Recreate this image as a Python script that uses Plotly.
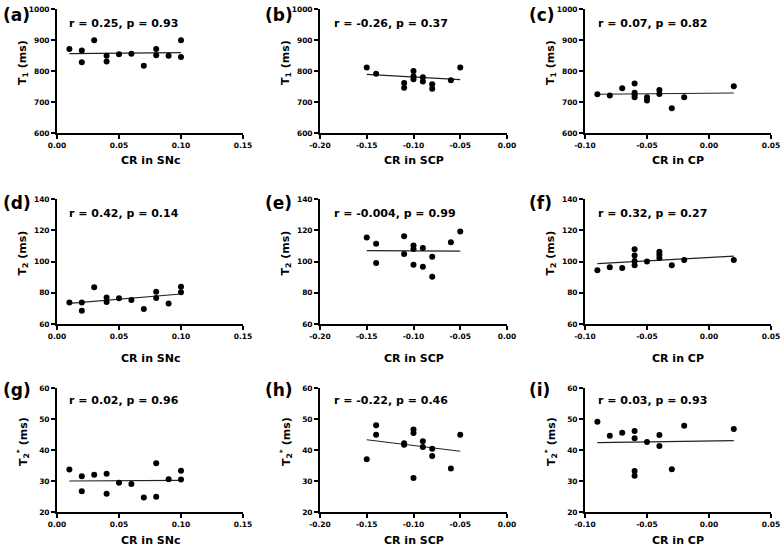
import plotly.graph_objects as go

W, H = 784, 549

# ---------------- data ----------------
# (a) T1 vs CR in SNc
a_x = [0.01, 0.02, 0.02, 0.03, 0.04, 0.04, 0.05, 0.06, 0.07, 0.08, 0.08, 0.09, 0.10, 0.10]
a_y = [871, 866, 828, 899, 849, 831, 854, 856, 817, 871, 851, 849, 899, 845]
a_fit_x = [0.01, 0.10]
a_fit_y = [856, 859]

# (b) T1 vs CR in SCP
b_x = [-0.15, -0.14, -0.11, -0.11, -0.10, -0.10, -0.10, -0.09, -0.09, -0.08, -0.08, -0.06, -0.05]
b_y = [811, 791, 761, 746, 800, 783, 773, 780, 766, 757, 743, 770, 811]
b_fit_x = [-0.15, -0.05]
b_fit_y = [789, 772]

# (c) T1 vs CR in CP
c_x = [-0.09, -0.08, -0.07, -0.06, -0.06, -0.06, -0.06, -0.05, -0.05, -0.04, -0.04, -0.03, -0.02, 0.02]
c_y = [725, 721, 744, 760, 730, 723, 715, 715, 705, 739, 726, 680, 715, 751]
c_fit_x = [-0.09, 0.02]
c_fit_y = [725, 729]

# (d) T2 vs CR in SNc
d_x = [0.01, 0.02, 0.02, 0.03, 0.04, 0.04, 0.05, 0.06, 0.07, 0.08, 0.08, 0.09, 0.10, 0.10]
d_y = [73.7, 73.7, 68.4, 83.5, 76.9, 74.1, 76.4, 75.3, 69.6, 80.7, 76.6, 73.2, 83.9, 80.3]
d_fit_x = [0.01, 0.10]
d_fit_y = [73.2, 79.2]

# (e) T2 vs CR in SCP
e_x = [-0.15, -0.14, -0.14, -0.11, -0.11, -0.10, -0.10, -0.10, -0.09, -0.09, -0.08, -0.08, -0.06, -0.05]
e_y = [115.3, 111.3, 99.0, 116.2, 104.8, 110.2, 108.0, 98.0, 108.7, 96.7, 103.1, 90.2, 112.3, 119.2]
e_fit_x = [-0.15, -0.05]
e_fit_y = [107.0, 106.6]

# (f) T2 vs CR in CP
f_x = [-0.09, -0.08, -0.07, -0.06, -0.06, -0.06, -0.06, -0.05, -0.04, -0.04, -0.04, -0.03, -0.02, 0.02]
f_y = [94.4, 96.3, 95.9, 107.8, 103.9, 100.4, 97.6, 100.0, 106.3, 104.3, 102.2, 97.6, 100.9, 100.9]
f_fit_x = [-0.09, 0.02]
f_fit_y = [98.7, 103.5]

# (g) T2* vs CR in SNc
g_x = [0.01, 0.02, 0.02, 0.03, 0.04, 0.04, 0.05, 0.06, 0.07, 0.08, 0.08, 0.09, 0.10, 0.10]
g_y = [33.7, 31.5, 26.7, 32.0, 32.3, 25.9, 29.4, 29.0, 24.7, 35.7, 24.9, 30.6, 33.3, 30.5]
g_fit_x = [0.01, 0.10]
g_fit_y = [30.0, 30.2]

# (h) T2* vs CR in SCP
h_x = [-0.15, -0.14, -0.14, -0.11, -0.11, -0.10, -0.10, -0.10, -0.09, -0.09, -0.08, -0.08, -0.06, -0.05]
h_y = [37.0, 48.0, 44.9, 42.2, 41.7, 46.6, 45.5, 31.0, 42.8, 41.0, 40.4, 38.1, 34.0, 44.9]
h_fit_x = [-0.15, -0.05]
h_fit_y = [43.3, 39.6]

# (i) T2* vs CR in CP
i_x = [-0.09, -0.08, -0.07, -0.06, -0.06, -0.06, -0.06, -0.05, -0.04, -0.04, -0.03, -0.02, 0.02]
i_y = [49.1, 44.6, 45.6, 46.1, 43.8, 33.2, 31.7, 42.6, 44.8, 41.3, 33.8, 47.8, 46.8]
i_fit_x = [-0.09, 0.02]
i_fit_y = [42.4, 43.0]

panel_labels = ["(a)", "(b)", "(c)", "(d)", "(e)", "(f)", "(g)", "(h)", "(i)"]
stats_text = ["r = 0.25, p = 0.93", "r = -0.26, p = 0.37", "r = 0.07, p = 0.82",
              "r = 0.42, p = 0.14", "r = -0.004, p = 0.99", "r = 0.32, p = 0.27",
              "r = 0.02, p = 0.96", "r = -0.22, p = 0.46", "r = 0.03, p = 0.93"]
x_titles = ["CR in SNc", "CR in SCP", "CR in CP"]
y_titles = ["T<sub>1</sub> (ms)", "T<sub>2</sub> (ms)", "T<sub>2</sub><sup>*</sup> (ms)"]

x_tickvals = [[0.0, 0.05, 0.10, 0.15], [-0.20, -0.15, -0.10, -0.05, 0.0], [-0.10, -0.05, 0.0, 0.05]]
x_ticktext = [["0.00", "0.05", "0.10", "0.15"],
              ["-0.20", "-0.15", "-0.10", "-0.05", "0.00"],
              ["-0.10", "-0.05", "0.00", "0.05"]]
y_tickvals = [[600, 700, 800, 900, 1000], [60, 80, 100, 120, 140], [20, 30, 40, 50, 60]]
y_ticktext = [["600", "700", "800", "900", "1000"], ["60", "80", "100", "120", "140"],
              ["20", "30", "40", "50", "60"]]

series = [(a_x, a_y, a_fit_x, a_fit_y), (b_x, b_y, b_fit_x, b_fit_y), (c_x, c_y, c_fit_x, c_fit_y),
          (d_x, d_y, d_fit_x, d_fit_y), (e_x, e_y, e_fit_x, e_fit_y), (f_x, f_y, f_fit_x, f_fit_y),
          (g_x, g_y, g_fit_x, g_fit_y), (h_x, h_y, h_fit_x, h_fit_y), (i_x, i_y, i_fit_x, i_fit_y)]

# ---------------- layout geometry (pixels) ----------------
col_px = [(57, 243), (320, 507), (585, 771)]
row_px = [(9, 133), (199, 324), (388, 512)]
xtitle_y = [161, 358, 540]
label_x = [1, 263, 527]
label_y = [15, 203, 390]
stats_y = [23, 213, 400]
stats_x = [67, 332, 596]

FONT = "DejaVu Sans"


def px(x):
    return x / W


def py(y):
    return 1 - y / H


fig = go.Figure()
layout = dict(template="none", width=W, height=H, margin=dict(l=0, r=0, t=0, b=0, pad=0),
              paper_bgcolor="white", plot_bgcolor="white", showlegend=False,
              font=dict(family=FONT, color="black"))
annotations = []

for k, (xs, ys, fx, fy) in enumerate(series):
    r, c = divmod(k, 3)
    n = k + 1
    xa = "x" if n == 1 else f"x{n}"
    ya = "y" if n == 1 else f"y{n}"
    fig.add_trace(go.Scatter(x=fx, y=fy, mode="lines", xaxis=xa, yaxis=ya,
                             line=dict(color="#222222", width=1.2), hoverinfo="skip"))
    fig.add_trace(go.Scatter(x=xs, y=ys, mode="markers", xaxis=xa, yaxis=ya,
                             marker=dict(color="black", size=6), cliponaxis=False))
    xv = x_tickvals[c]
    yv = y_tickvals[r]
    axis_common = dict(showgrid=False, zeroline=False, showline=True, linecolor="black",
                       linewidth=1.8, ticks="outside", ticklen=4, tickwidth=1.5,
                       tickcolor="black", automargin=False,
                       tickfont=dict(family=FONT, size=7.5, color="black", weight="bold"))
    layout["xaxis" if n == 1 else f"xaxis{n}"] = dict(
        domain=[px(col_px[c][0]), px(col_px[c][1])], anchor=ya,
        range=[xv[0], xv[-1]], tickvals=xv, ticktext=x_ticktext[c], **axis_common)
    layout["yaxis" if n == 1 else f"yaxis{n}"] = dict(
        domain=[py(row_px[r][1]), py(row_px[r][0])], anchor=xa,
        range=[yv[0], yv[-1]], tickvals=yv, ticktext=y_ticktext[r], **axis_common)

    # panel label
    annotations.append(dict(text=panel_labels[k], x=px(label_x[c]), y=py(label_y[r]),
                            xref="paper", yref="paper", xanchor="left", yanchor="middle",
                            showarrow=False,
                            font=dict(family=FONT, size=17, color="black", weight="bold")))
    # stats
    annotations.append(dict(text=stats_text[k], x=px(stats_x[c]), y=py(stats_y[r]),
                            xref="paper", yref="paper", xanchor="left", yanchor="middle",
                            showarrow=False,
                            font=dict(family=FONT, size=11, color="black", weight="bold")))
    # x title
    annotations.append(dict(text=x_titles[c], x=px((col_px[c][0] + col_px[c][1]) / 2),
                            y=py(xtitle_y[r]), xref="paper", yref="paper",
                            xanchor="center", yanchor="middle", showarrow=False,
                            font=dict(family=FONT, size=11, color="black", weight="bold")))
    # y title
    annotations.append(dict(text=y_titles[r], x=px(col_px[c][0] - 34),
                            y=py((row_px[r][0] + row_px[r][1]) / 2 - 8),
                            xref="paper", yref="paper", xanchor="center", yanchor="middle",
                            textangle=-90, showarrow=False,
                            font=dict(family=FONT, size=11, color="black", weight="bold")))

layout["annotations"] = annotations
fig.update_layout(**layout)
fig.write_html("out.html",
               config={"displayModeBar": False},
               post_script="document.body.style.margin='0';"
                           "document.body.style.overflow='hidden';")
